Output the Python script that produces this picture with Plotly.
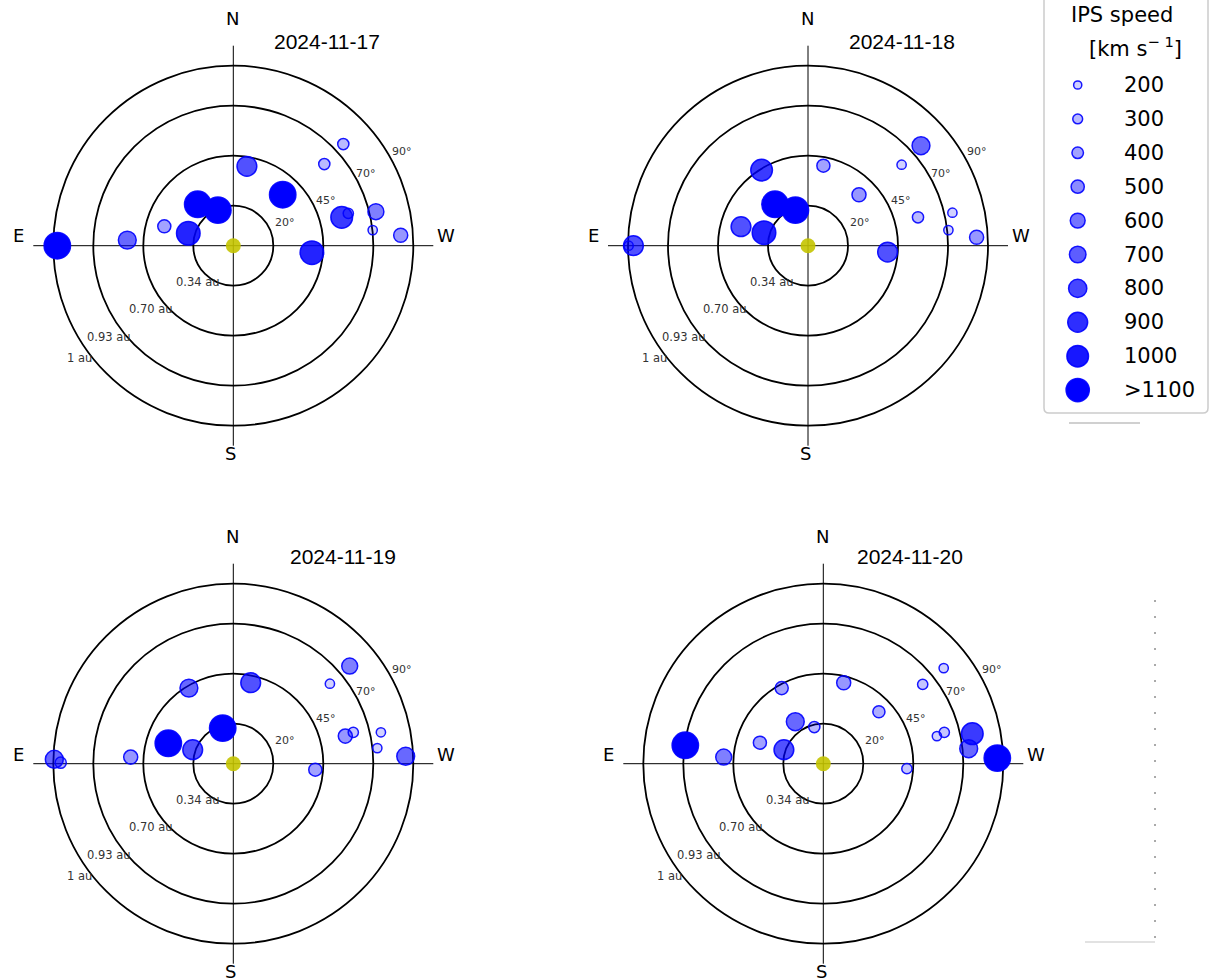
import numpy as np
import plotly.graph_objects as go

# ---------------- data ----------------
DATES = ["2024-11-17", "2024-11-18", "2024-11-19", "2024-11-20"]

# offsets from the Sun in degrees (EW: + = West, NS: + = North) and IPS speed (km/s)
EW_17 = [-88, -53, -34.5, -22.5, -17.8, -7.7, 6.8, 24.7, 39.3, 54.2, 57.5, 55, 45.5, 71.3, 69.7, 83.7]
NS_17 = [0, 2.8, 9.7, 6.2, 20.7, 17.8, 39.7, 25.5, -3.5, 14.2, 16.2, 50.8, 40.8, 17, 7.8, 5.2]
V_17 = [1150, 650, 400, 950, 1150, 1150, 750, 1150, 950, 850, 250, 300, 300, 550, 200, 450]

EW_18 = [-87.3, -89.7, -33.5, -22, -16.5, -6.3, -23.2, 7.7, 25.5, 39.8, 56.5, 46.8, 55, 72.2, 70.2, 84.3]
NS_18 = [0, 0, 9.5, 6.5, 20.7, 17.8, 37.8, 40, 25.5, -3.2, 50, 40.5, 14.2, 16.5, 7.8, 4.2]
V_18 = [750, 200, 750, 950, 1150, 1150, 850, 400, 450, 750, 650, 200, 300, 200, 200, 450]

EW_19 = [-89.5, -86.3, -51.3, -32.5, -20.3, -5.3, -22.2, 8.7, 41, 58.2, 48.3, 56, 60, 73.8, 72, 86.2]
NS_19 = [2.2, 0.5, 3.3, 10.2, 7, 17.8, 37.8, 40.5, -3, 48.8, 40, 13.8, 15.7, 15.7, 7.8, 3.7]
V_19 = [650, 300, 450, 1150, 750, 1150, 650, 750, 400, 550, 200, 450, 250, 200, 200, 650]

EW_20 = [-69, -49.8, -31.7, -19.7, -14, -4.5, -20.8, 10.2, 27.8, 41.8, 49.7, 60.2, 60.5, 56.8, 74.5, 72.7, 87]
NS_20 = [9.2, 3.3, 10.5, 7, 21, 18.3, 37.8, 40.5, 26, -2.5, 39.7, 47.8, 15.7, 13.8, 15, 7.5, 2.8]
V_20 = [1150, 550, 400, 750, 650, 300, 400, 450, 350, 250, 250, 200, 250, 200, 850, 650, 1150]

SUN_EW = [0]
SUN_NS = [0]

RING_ELONG = [20, 45, 70, 90]
RING_ANGLE_LABELS = ["20°", "45°", "70°", "90°"]
RING_DIST_LABELS = ["0.34 au", "0.70 au", "0.93 au", "1 au"]

LEGEND_SPEEDS = [200, 300, 400, 500, 600, 700, 800, 900, 1000, 1100]
LEGEND_LABELS = ["200", "300", "400", "500", "600", "700", "800", "900", "1000", ">1100"]

PANELS = [(EW_17, NS_17, V_17), (EW_18, NS_18, V_18), (EW_19, NS_19, V_19), (EW_20, NS_20, V_20)]

# ---------------- layout / style ----------------
W, H = 1211, 979
CENTERS = [(233.3, 245.7), (808.0, 245.7), (233.3, 763.7), (823.3, 763.7)]
PX_PER_DEG = 2.0
HALF = 205.0
R = HALF / PX_PER_DEG
TITLE_OFF = [(94, -204), (94, -204), (109.4, -207.7), (86.4, -207.7)]
COMPASS = [("N", -1, -227.5), ("S", -2.3, 207.8), ("E", -214.5, -9.7), ("W", 212.7, -9.7)]
ANGLE_LBL_POS = [(20, 11.85), (40.5, 22.85), (60.5, 36.35), (78.5, 47.35)]
DIST_LBL_POS = [(-17.9, -18.3), (-41.4, -31.8), (-62.15, -45.5), (-76.8, -56.3)]


def diam(v, scale=1.0):
    v = np.clip(np.asarray(v, float), 0, 1100)
    return scale * (5.5 + 0.019 * v)


def fills(v):
    v = np.clip(np.asarray(v, float), 0, 1100)
    a = np.clip(v / 1100.0, 0.15, 1.0)
    return [f"rgba(0,0,255,{x:.3f})" for x in a]


fig = go.Figure()
shapes, annotations = [], []
lay = {}

for i, ((cx, cy), (ew, ns, v)) in enumerate(zip(CENTERS, PANELS), start=1):
    xa = "x" if i == 1 else f"x{i}"
    ya = "y" if i == 1 else f"y{i}"
    xd = [(cx - HALF) / W, (cx + HALF) / W]
    yd = [(H - cy - HALF) / H, (H - cy + HALF) / H]
    lay["xaxis" if i == 1 else f"xaxis{i}"] = dict(domain=xd, range=[-R, R], visible=False,
                                                   fixedrange=True, anchor=ya)
    lay["yaxis" if i == 1 else f"yaxis{i}"] = dict(domain=yd, range=[-R, R], visible=False,
                                                   fixedrange=True, anchor=xa)
    # crosshair
    shapes.append(dict(type="line", xref=xa, yref=ya, x0=-100, x1=100, y0=0, y1=0,
                       line=dict(color="black", width=1), layer="below"))
    shapes.append(dict(type="line", xref=xa, yref=ya, x0=0, x1=0, y0=-100, y1=100,
                       line=dict(color="black", width=1), layer="below"))
    for r in RING_ELONG:
        shapes.append(dict(type="circle", xref=xa, yref=ya, x0=-r, x1=r, y0=-r, y1=r,
                           line=dict(color="black", width=1.8), layer="below"))
    for txt, (lx, ly) in zip(RING_ANGLE_LABELS, ANGLE_LBL_POS):
        annotations.append(dict(xref=xa, yref=ya, x=lx, y=ly, text=txt, showarrow=False,
                                xanchor="left", yanchor="middle",
                                font=dict(family="DejaVu Sans", size=11, color="#333333")))
    for txt, (lx, ly) in zip(RING_DIST_LABELS, DIST_LBL_POS):
        annotations.append(dict(xref=xa, yref=ya, x=lx, y=ly, text=txt, showarrow=False,
                                xanchor="center", yanchor="middle",
                                font=dict(family="DejaVu Sans", size=11.5, color="#333333")))
    for txt, dx, dy in COMPASS:
        annotations.append(dict(xref="paper", yref="paper", x=(cx + dx) / W, y=1 - (cy + dy) / H,
                                text=txt, showarrow=False, xanchor="center", yanchor="middle",
                                font=dict(family="DejaVu Sans", size=18, color="black")))
    tdx, tdy = TITLE_OFF[i - 1]
    annotations.append(dict(xref="paper", yref="paper", x=(cx + tdx) / W, y=1 - (cy + tdy) / H,
                            text=DATES[i - 1], showarrow=False, xanchor="center", yanchor="middle",
                            font=dict(family="Liberation Sans", size=21, color="black")))
    # sun
    fig.add_trace(go.Scatter(x=SUN_EW, y=SUN_NS, xaxis=xa, yaxis=ya, mode="markers",
                             marker=dict(size=15, color="rgba(196,196,0,0.9)", opacity=1,
                                         line=dict(width=0)),
                             showlegend=False, hoverinfo="skip"))
    # IPS points
    fig.add_trace(go.Scatter(x=ew, y=ns, xaxis=xa, yaxis=ya, mode="markers",
                             marker=dict(size=diam(v), color=fills(v), opacity=1,
                                         line=dict(color="rgba(0,0,255,0.9)", width=1.5)),
                             showlegend=False, name=DATES[i - 1],
                             text=[f"{s} km/s" for s in v]))

# ---------------- custom legend (pixel axis) ----------------
LX0, LY1 = 1040, 430
lay["xaxis5"] = dict(domain=[LX0 / W, 1], range=[LX0, W], visible=False, fixedrange=True, anchor="y5")
lay["yaxis5"] = dict(domain=[(H - LY1) / H, 1], range=[LY1, 0], visible=False, fixedrange=True, anchor="x5")

bx0, bx1, by0, by1, rr = 1044, 1208, -6, 413, 5
path = (f"M {bx0+rr},{by0} L {bx1-rr},{by0} Q {bx1},{by0} {bx1},{by0+rr} L {bx1},{by1-rr} "
        f"Q {bx1},{by1} {bx1-rr},{by1} L {bx0+rr},{by1} Q {bx0},{by1} {bx0},{by1-rr} "
        f"L {bx0},{by0+rr} Q {bx0},{by0} {bx0+rr},{by0} Z")
shapes.append(dict(type="path", xref="x5", yref="y5", path=path, fillcolor="white",
                   line=dict(color="#cccccc", width=1.5), layer="below"))
shapes.append(dict(type="line", xref="x5", yref="y5", x0=1069, x1=1140, y0=423, y1=423,
                   line=dict(color="#d0d0d0", width=2), layer="below"))

row_y = [85 + 33.9 * k for k in range(len(LEGEND_SPEEDS))]
fig.add_trace(go.Scatter(x=[1077.7] * len(LEGEND_SPEEDS), y=row_y, xaxis="x5", yaxis="y5",
                         mode="markers",
                         marker=dict(size=diam(LEGEND_SPEEDS, 0.88), color=fills(LEGEND_SPEEDS),
                                     opacity=1, line=dict(color="rgba(0,0,255,0.9)", width=1.5)),
                         showlegend=False, hoverinfo="skip"))
for lbl, yy in zip(LEGEND_LABELS, row_y):
    annotations.append(dict(xref="x5", yref="y5", x=1121.7, y=yy, text=lbl, showarrow=False,
                            xanchor="left", yanchor="middle",
                            font=dict(family="DejaVu Sans", size=21, color="black")))
annotations.append(dict(xref="x5", yref="y5", x=1122.3, y=15, text="IPS speed", showarrow=False,
                        xanchor="center", yanchor="middle",
                        font=dict(family="DejaVu Sans", size=21, color="black")))
annotations.append(dict(xref="x5", yref="y5", x=1135, y=47, text="[km s<sup>\u2212 1</sup>]",
                        showarrow=False, xanchor="center", yanchor="middle",
                        font=dict(family="DejaVu Sans", size=21, color="black")))

# cropping remnants at bottom right
shapes.append(dict(type="line", xref="paper", yref="paper", x0=1085 / W, x1=1155 / W,
                   y0=1 - 942 / H, y1=1 - 942 / H, line=dict(color="#d8d8d8", width=1.5)))
shapes.append(dict(type="line", xref="paper", yref="paper", x0=1155 / W, x1=1155 / W,
                   y0=1 - 600 / H, y1=1 - 940 / H, line=dict(color="#555555", width=1, dash="2px,14px")))

fig.update_layout(width=W, height=H, margin=dict(l=0, r=0, t=0, b=0),
                  paper_bgcolor="white", plot_bgcolor="rgba(0,0,0,0)",
                  shapes=shapes, annotations=annotations, showlegend=False, **lay)

fig.write_html("out.html", config={"displayModeBar": False, "staticPlot": True},
               post_script="document.body.style.margin='0';document.body.style.padding='0';")
